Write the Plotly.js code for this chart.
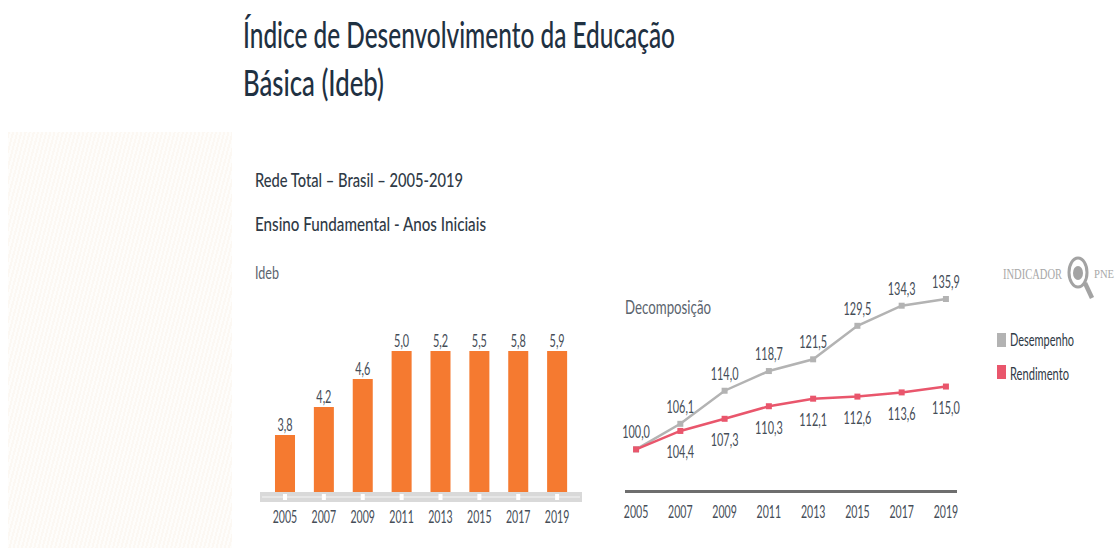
<!DOCTYPE html>
<html>
<head>
<meta charset="utf-8">
<script src="https://cdn.plot.ly/plotly-3.0.1.min.js"></script>
<style>
html,body{margin:0;padding:0;background:#fff;width:1118px;height:548px;overflow:hidden}
#bg{position:absolute;left:8px;top:132px;width:224px;height:416px;
background:repeating-linear-gradient(105deg,#fcf8f3 0 2px,#fefdfb 2px 4px)}
#chart{position:absolute;left:0;top:0;width:1118px;height:548px}
</style>
</head>
<body>
<div id="bg"></div>
<div id="chart"></div>
<script>
var years = ['2005','2007','2009','2011','2013','2015','2017','2019'];
var ideb = [3.8,4.2,4.6,5.0,5.2,5.5,5.8,5.9];
var idebLabels = ['3,8','4,2','4,6','5,0','5,2','5,5','5,8','5,9'];
var desempenho = [100.0,106.1,114.0,118.7,121.5,129.5,134.3,135.9];
var desempenhoLabels = ['100,0','106,1','114,0','118,7','121,5','129,5','134,3','135,9'];
var rendimento = [100.0,104.4,107.3,110.3,112.1,112.6,113.6,115.0];
var rendimentoLabels = ['','104,4','107,3','110,3','112,1','112,6','113,6','115,0'];
var idebMax = 5.0;

var W = 1118, H = 548;
var FONT = 'Lato,"Open Sans",sans-serif';
var SERIF = '"Liberation Serif",serif';
var INK = '#454d57', GREY = '#b3b3b3', RED = '#e9566c', ORANGE = '#f57a30', ICON = '#a3a3a3';
function px(x){return x/W;}
function py(y){return 1-y/H;}

var traces = [
  {type:'bar',x:years,y:ideb,xaxis:'x',yaxis:'y',width:0.515,marker:{color:ORANGE},hoverinfo:'x+y',showlegend:false},
  {type:'scatter',mode:'text',x:years,y:ideb.map(function(v){return Math.min(v,idebMax);}),text:idebLabels,
   textposition:'top center',textfont:{family:FONT,size:17,color:INK},cliponaxis:false,xaxis:'x',yaxis:'y',hoverinfo:'skip',showlegend:false},
  {type:'scatter',mode:'lines+markers',name:'Desempenho',x:years,y:desempenho,
   line:{color:GREY,width:2.5},marker:{symbol:'square',size:6,color:GREY},cliponaxis:false,xaxis:'x2',yaxis:'y2',showlegend:false},
  {type:'scatter',mode:'lines+markers',name:'Rendimento',x:years,y:rendimento,
   line:{color:RED,width:2.5},marker:{symbol:'square',size:6,color:RED},cliponaxis:false,xaxis:'x2',yaxis:'y2',showlegend:false},
  {type:'scatter',mode:'markers+text',x:years,y:desempenho,text:desempenhoLabels,textposition:'top center',
   textfont:{family:FONT,size:17,color:INK},marker:{size:9,color:'rgba(0,0,0,0)'},cliponaxis:false,xaxis:'x2',yaxis:'y2',hoverinfo:'skip',showlegend:false},
  {type:'scatter',mode:'markers+text',x:years,y:rendimento,text:rendimentoLabels,textposition:'bottom center',
   textfont:{family:FONT,size:17,color:INK},marker:{size:22,color:'rgba(0,0,0,0)'},cliponaxis:false,xaxis:'x2',yaxis:'y2',hoverinfo:'skip',showlegend:false}
];

var shapes = [{type:'line',xref:'paper',yref:'paper',x0:px(262),x1:px(580),y0:py(497),y1:py(497),line:{color:'#ebebeb',width:1.5},layer:'above'}];
years.forEach(function(y,i){
  shapes.push({type:'line',xref:'x',yref:'paper',x0:i,x1:i,y0:py(494),y1:py(500),line:{color:'#ffffff',width:4},layer:'above'});
});
shapes.push({type:'rect',xref:'paper',yref:'paper',x0:px(997),x1:px(1006),y0:py(333),y1:py(347),fillcolor:GREY,line:{width:0}});
shapes.push({type:'rect',xref:'paper',yref:'paper',x0:px(997),x1:px(1006),y0:py(365),y1:py(379),fillcolor:RED,line:{width:0}});
shapes.push({type:'line',xref:'paper',yref:'paper',x0:px(1085),x1:px(1092),y0:py(283),y1:py(298),line:{color:ICON,width:4.5}});
shapes.push({type:'circle',xref:'paper',yref:'paper',x0:px(1069),x1:px(1087),y0:py(258),y1:py(287),fillcolor:'#ffffff',line:{color:ICON,width:3}});
shapes.push({type:'circle',xref:'paper',yref:'paper',x0:px(1073),x1:px(1083),y0:py(266),y1:py(280),fillcolor:ICON,line:{width:0}});

function note(text,x,y,size,color,family,weight){
  return {text:text,xref:'paper',yref:'paper',x:px(x-2),y:py(y),xanchor:'left',yanchor:'middle',align:'left',showarrow:false,
    font:{family:family||FONT,size:size,color:color||INK,weight:weight||400}};
}

var layout = {
  width:W,height:H,margin:{l:0,r:0,t:0,b:0},paper_bgcolor:'rgba(0,0,0,0)',plot_bgcolor:'rgba(0,0,0,0)',
  showlegend:false,
  title:{text:'Índice de Desenvolvimento da Educação<br>Básica (Ideb)',x:px(243),xanchor:'left',xref:'paper',
    y:py(48),yref:'paper',yanchor:'middle',font:{family:FONT,size:37,color:'#1f3142',weight:500}},
  xaxis:{domain:[px(260),px(582)],type:'category',range:[-0.643,7.64],showline:true,linewidth:10,linecolor:'#d9d9d9',tickangle:0,
    ticks:'',ticklabelstandoff:1,tickfont:{family:FONT,size:16.5,color:INK},showgrid:false,zeroline:false,anchor:'y'},
  yaxis:{domain:[py(492),py(351)],range:[2.986,idebMax],visible:false,showgrid:false,zeroline:false,anchor:'x'},
  xaxis2:{domain:[px(625),px(957)],type:'category',range:[-0.25,7.25],showline:true,linewidth:2.5,linecolor:'#6e6e6e',tickangle:0,
    ticks:'',ticklabelstandoff:5,tickfont:{family:FONT,size:16.5,color:INK},showgrid:false,zeroline:false,anchor:'y2'},
  yaxis2:{domain:[py(490),py(290)],range:[90.3,138.05],visible:false,showgrid:false,zeroline:false,anchor:'x2'},
  shapes:shapes,
  annotations:[
    note('Rede Total – Brasil – 2005-2019',255,179,19,'#2f3a46',FONT,500),
    note('Ensino Fundamental - Anos Iniciais',255,223,19,'#2f3a46',FONT,500),
    note('Ideb',255,272,17,'#5b646e'),
    note('Decomposição',625,307,18.5,'#5b646e'),
    note('Desempenho',1010,340,16.5,'#2f3a46'),
    note('Rendimento',1010,374,16.5,'#2f3a46'),
    note('INDICADOR',1003,274,14.5,'#a8a8a8',SERIF),
    note('PNE',1094,274,12,'#a8a8a8',SERIF)
  ]
};

// The reference's typeface is a condensed one that is not installed: narrow the real text to the same widths.
var NARROW = 0.64;
var textWidths = {
  'Índice de Desenvolvimento da Educação':432,'Básica (Ideb)':141,
  'Rede Total – Brasil – 2005-2019':208,'Ensino Fundamental - Anos Iniciais':231,
  'Ideb':24,'Decomposição':86,'Desempenho':64,'Rendimento':59,'INDICADOR':59,'PNE':20
};
function narrow(el){
  var n = el.getComputedTextLength();
  if(n>0){
    var target = textWidths[el.textContent] || n*NARROW;
    el.setAttribute('textLength',target.toFixed(1));
    el.setAttribute('lengthAdjust','spacingAndGlyphs');
  }
}
Plotly.newPlot('chart',traces,layout,{displayModeBar:false,responsive:false}).then(function(gd){
  gd.querySelectorAll('svg text').forEach(function(t){
    var lines = t.querySelectorAll('tspan.line');
    if(lines.length){ lines.forEach(narrow); } else { narrow(t); }
  });
});
</script>
</body>
</html>
